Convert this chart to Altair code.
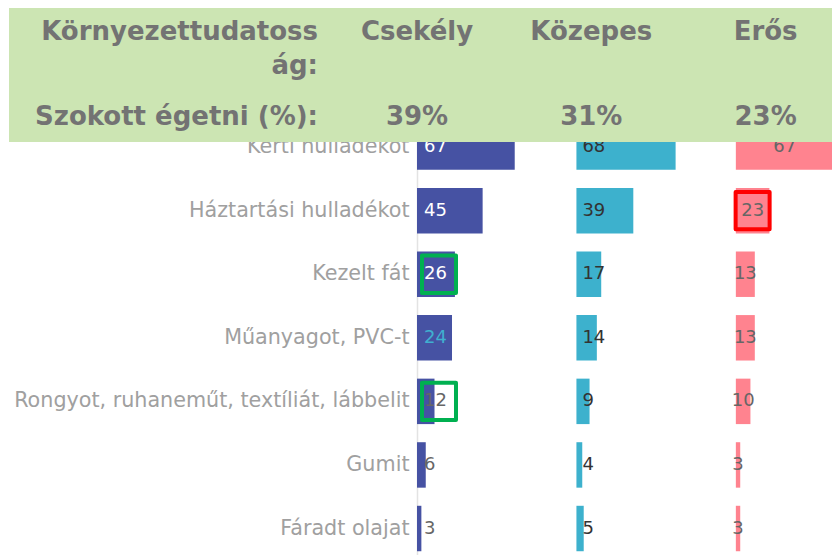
import altair as alt
import pandas as pd

# ---- data ----
categories = ["Kerti hulladékot", "Háztartási hulladékot", "Kezelt fát", "Műanyagot, PVC-t",
              "Rongyot, ruhaneműt, textíliát, lábbelit", "Gumit", "Fáradt olajat"]
levels = ["Csekély", "Közepes", "Erős"]
csekely = [67, 45, 26, 24, 12, 6, 3]
kozepes = [68, 39, 17, 14, 9, 4, 5]
eros = [67, 23, 13, 13, 10, 3, 3]
burn_share = ["39%", "31%", "23%"]
header_label = "Környezettudatoss\nág:"
row_label = "Szokott égetni (%):"
title_text = "Mit szokott elégetni?"
green_highlights = [("Csekély", "Kezelt fát"),
                    ("Csekély", "Rongyot, ruhaneműt, textíliát, lábbelit")]
red_highlights = [("Erős", "Háztartási hulladékot")]

# ---- tables ----
rows = []
for i, (lev, vals) in enumerate(zip(levels, [csekely, kozepes, eros])):
    for c, v in zip(categories, vals):
        rows.append({"level": lev, "i": i, "cat": c, "v": v})
df = pd.DataFrame(rows)
hdf = pd.DataFrame({"level": levels, "pct": burn_share, "i": list(range(len(levels)))})
gdf = pd.DataFrame([{"level": l, "cat": c, "i": levels.index(l)} for l, c in green_highlights])
rdf = df.merge(pd.DataFrame([{"level": l, "cat": c} for l, c in red_highlights]), on=["level", "cat"])

PANEL = 109.3     # gap between panels, in value units
HEAD = 119.5      # gap between header columns, in value units
UNIT = 1.4586     # pixels per value unit
W, H = 415, 445
FONT = "DejaVu Sans"
bar_colors = ["#4652a3", "#3db1cd", "#ff838f"]

xs = alt.Scale(domain=[0, W / UNIT], nice=False, zero=False)
ys = alt.Scale(domain=categories, paddingInner=0.285, paddingOuter=0.1425)
Y = alt.Y("cat:N", scale=ys, sort=categories,
          axis=alt.Axis(title=None, ticks=False, labelFontSize=20.7, labelColor="#a0a0a0",
                        labelFont=FONT, labelPadding=8, labelLimit=600,
                        domainColor="#e3e3e3", domainWidth=1.5))
Yn = alt.Y("cat:N", scale=ys, sort=categories)

base = alt.Chart(df).transform_calculate(
    x0=f"datum.i * {PANEL}", x1=f"datum.i * {PANEL} + datum.v",
    xm=f"datum.i * {PANEL} + datum.v / 2")

one = alt.Data(values=[{"k": 1}])

title = alt.Chart(one).mark_text(text=title_text, fontSize=24, fontWeight="bold", color="#4d4d4d",
                                 align="center", baseline="alphabetic", font=FONT).encode(
    x=alt.value(28), y=alt.value(-93.3))

bars = base.mark_bar(clip=False).encode(
    x=alt.X("x0:Q", scale=xs, axis=None), x2="x1:Q", y=Y,
    color=alt.Color("level:N", scale=alt.Scale(domain=levels, range=bar_colors), legend=None))

lab1 = base.transform_filter("datum.i == 0").transform_calculate(
    lc="datum.v >= 25 ? '#ffffff' : (datum.v == 24 ? '#3fb0d0' : '#666666')"
).mark_text(align="left", dx=7, fontSize=18, baseline="middle", font=FONT).encode(
    x="x0:Q", y=Yn, text="v:Q", color=alt.Color("lc:N", scale=None))

lab2 = base.transform_filter("datum.i == 1").mark_text(
    align="left", dx=6, fontSize=18, baseline="middle", color="#333333", font=FONT).encode(
    x="x0:Q", y=Yn, text="v:Q")

lab3 = base.transform_filter("datum.i == 2").mark_text(
    align="center", fontSize=18, baseline="middle", color="#666666", font=FONT).encode(
    x="xm:Q", y=Yn, text="v:Q")

box_shape = "M-1,-1.1H1V1.1H-1Z"
green = alt.Chart(gdf).transform_calculate(x0=f"datum.i * {PANEL}").mark_point(
    shape=box_shape, size=1156, filled=False, strokeWidth=4, strokeJoin="round",
    color="#00b050", opacity=1, xOffset=22).encode(x="x0:Q", y=Yn)

red = alt.Chart(rdf).transform_calculate(xm=f"datum.i * {PANEL} + datum.v / 2").mark_point(
    shape=box_shape, size=1156, filled=False, strokeWidth=4, strokeJoin="round",
    color="#ff0000", opacity=1).encode(x="xm:Q", y=Yn)

panel_box = alt.Chart(one).mark_rect(color="#cce5b3").encode(
    x=alt.value(-408), x2=alt.value(W + 20), y=alt.value(-108.3), y2=alt.value(26.7))

head_txt = dict(fontSize=26, fontWeight="bold", color="#737373", baseline="alphabetic", font=FONT)
left1 = alt.Chart(one).mark_text(text=header_label, align="right", lineBreak="\n",
                                 lineHeight=34, **head_txt).encode(
    x=alt.value(-99), y=alt.value(-74.8))
left2 = alt.Chart(one).mark_text(text=row_label, align="right", **head_txt).encode(
    x=alt.value(-99), y=alt.value(9.7))

hbase = alt.Chart(hdf).transform_calculate(hx=f"datum.i * {HEAD}")
head1 = hbase.mark_text(align="center", **head_txt).encode(
    x="hx:Q", y=alt.value(-74.8), text="level:N")
head2 = hbase.mark_text(align="center", **head_txt).encode(
    x="hx:Q", y=alt.value(9.7), text="pct:N")

chart = alt.layer(title, bars, lab1, lab2, lab3, green, red,
                  panel_box, left1, left2, head1, head2).properties(
    width=W, height=H, autosize="none",
    padding={"left": 409, "top": 107.3, "right": 0, "bottom": 0}
).configure_view(stroke=None).configure(font=FONT)

chart.save("out.html", embed_options={"renderer": "svg", "actions": False})
